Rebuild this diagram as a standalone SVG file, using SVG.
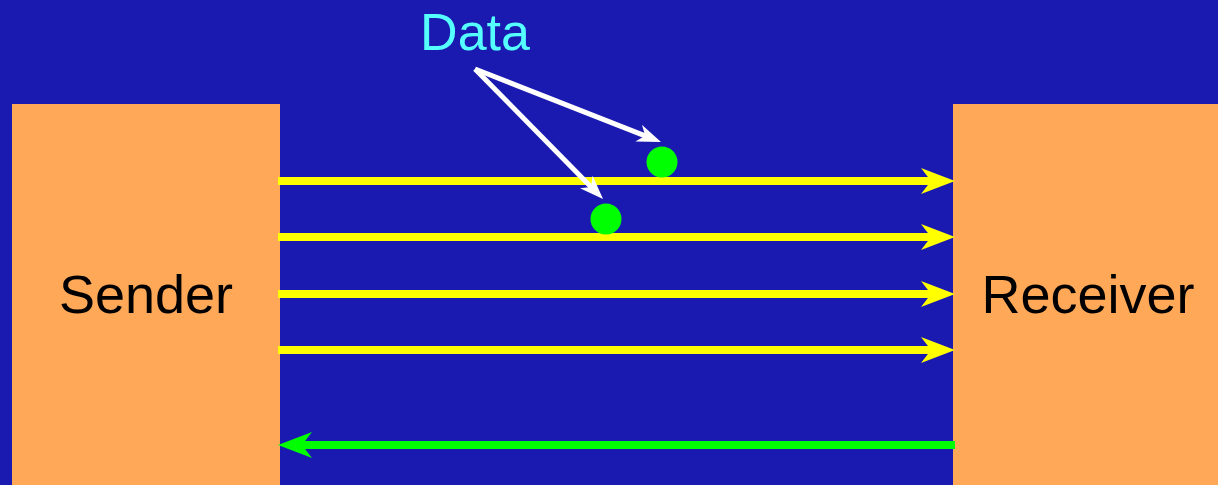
<svg xmlns="http://www.w3.org/2000/svg" width="1218" height="485" viewBox="0 0 1218 485">
<style>
.box{fill:#FFA858}
.lbl{font-family:"Liberation Sans",Arial,sans-serif;font-size:54px;fill:#000;text-anchor:middle}
.data{font-family:"Liberation Sans",Arial,sans-serif;font-size:52px;fill:#55FFFF;text-anchor:middle}
.ch{stroke:#FFFF00;stroke-width:8;fill:none}
.ack{stroke:#00FF00;stroke-width:8;fill:none}
.ptr{stroke:#FFFFFF;stroke-width:5;fill:none}
.dot{fill:#00FF00}
</style>
<defs>
<marker id="ay" markerUnits="userSpaceOnUse" viewBox="0 0 34 26" refX="10" refY="13" markerWidth="34" markerHeight="26" orient="auto">
<path d="M0,0 L34,13 L0,26 L10,13 Z" fill="#FFFF00"/>
</marker>
<marker id="ag" markerUnits="userSpaceOnUse" viewBox="0 0 34 26" refX="10" refY="13" markerWidth="34" markerHeight="26" orient="auto">
<path d="M0,0 L34,13 L0,26 L10,13 Z" fill="#00FF00"/>
</marker>
<marker id="aw" markerUnits="userSpaceOnUse" viewBox="0 0 24 18" refX="7" refY="9" markerWidth="24" markerHeight="18" orient="auto">
<path d="M0,0 L24,9 L0,18 L7,9 Z" fill="#FFFFFF"/>
</marker>
</defs>
<rect width="1218" height="485" fill="#1A1AB0"/>
<g id="sender">
<rect class="box" x="12" y="104" width="268" height="381"/>
<text class="lbl" x="146" y="313">Sender</text>
</g>
<g id="receiver">
<rect class="box" x="953" y="104" width="265" height="381"/>
<text class="lbl" x="1088" y="313">Receiver</text>
</g>
<g id="connectors">
<line class="ch" x1="278" y1="181" x2="931" y2="181" marker-end="url(#ay)"/>
<line class="ch" x1="278" y1="237" x2="931" y2="237" marker-end="url(#ay)"/>
<line class="ch" x1="278" y1="294" x2="931" y2="294" marker-end="url(#ay)"/>
<line class="ch" x1="278" y1="350" x2="931" y2="350" marker-end="url(#ay)"/>
<line class="ack" x1="955" y1="445" x2="302" y2="445" marker-end="url(#ag)"/>
<line class="ptr" x1="475" y1="69" x2="645.2" y2="135.8" marker-end="url(#aw)"/>
<line class="ptr" x1="475" y1="69" x2="591.1" y2="186.9" marker-end="url(#aw)"/>
</g>
<g id="data">
<text class="data" x="475" y="50">Data</text>
<circle class="dot" cx="662" cy="162" r="15.5"/>
<circle class="dot" cx="606" cy="219" r="15.5"/>
</g>
</svg>
